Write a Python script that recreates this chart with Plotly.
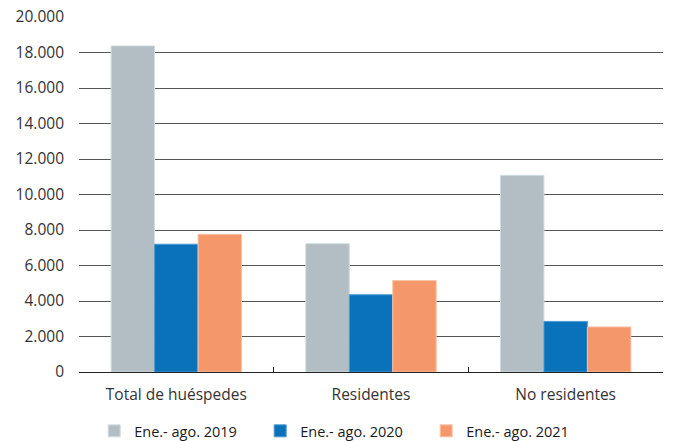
import plotly.graph_objects as go

categories = ["Total de huéspedes", "Residentes", "No residentes"]
series_names = ["Ene.- ago. 2019", "Ene.- ago. 2020", "Ene.- ago. 2021"]
values_2019 = [18370, 7230, 11080]
values_2020 = [7200, 4350, 2850]
values_2021 = [7760, 5150, 2540]
y_ticks = [0, 2000, 4000, 6000, 8000, 10000, 12000, 14000, 16000, 18000, 20000]
y_tick_labels = ["0", "2.000", "4.000", "6.000", "8.000", "10.000", "12.000", "14.000", "16.000", "18.000", "20.000"]

colors = ["#b2bec3", "#0a72ba", "#f4986b"]
outlines = ["#d3dcdf", "#4d9ad0", "#f9c3a8"]

fig = go.Figure()
for name, vals, c, o in zip(series_names, [values_2019, values_2020, values_2021], colors, outlines):
    fig.add_trace(go.Bar(x=categories, y=vals, name=name,
                         marker=dict(color=c, line=dict(color=o, width=1))))

font_family = "Open Sans, Noto Sans, sans-serif"
fig.update_layout(
    width=673, height=441,
    margin=dict(l=79, r=10, t=17, b=69, autoexpand=False),
    paper_bgcolor="white", plot_bgcolor="white",
    barmode="group", bargap=0.33, bargroupgap=0,
    font=dict(family=font_family, size=15.5, color="#333333"),
    showlegend=True,
    legend=dict(orientation="h", x=0.026, xanchor="left", y=-0.166, yanchor="middle",
                font=dict(size=14.5, color="#1a1a1a"),
                entrywidth=121, entrywidthmode="pixels",
                traceorder="normal"),
)
fig.update_xaxes(
    showline=True, linecolor="#222222", linewidth=1,
    ticks="inside", ticklen=5, tickcolor="#222222", tickson="boundaries",
    showgrid=False, tickfont=dict(size=15.5, color="#333333"),
    automargin=False, ticklabelstandoff=8,
)
fig.update_yaxes(
    range=[0, 20000], tickvals=y_ticks, ticktext=y_tick_labels,
    showgrid=True, gridcolor="#555555", gridwidth=1,
    showline=False, zeroline=False, ticks="", ticklabelstandoff=14,
    tickfont=dict(size=15.5, color="#333333"),
    automargin=False,
)
fig.write_html("out.html", config={"displayModeBar": False},
               post_script="document.body.style.margin='0';document.body.style.overflow='hidden';")
